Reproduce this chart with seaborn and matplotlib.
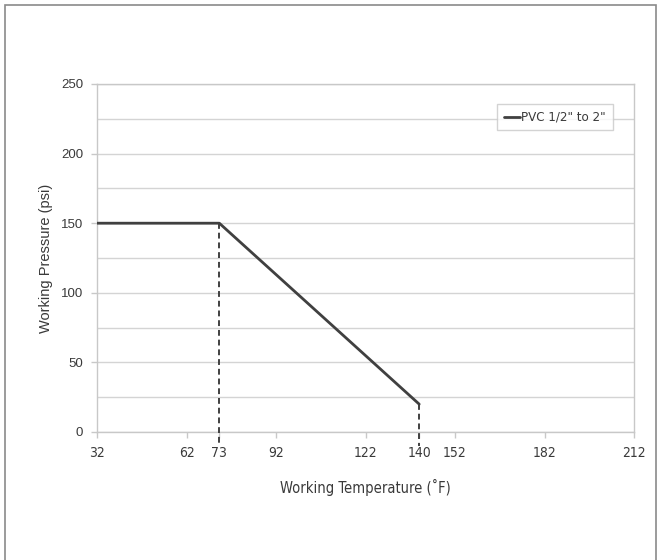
import numpy as np
import pandas as pd
import matplotlib
matplotlib.use("Agg")
import matplotlib.pyplot as plt
import seaborn as sns
from matplotlib.patches import Rectangle

# ------------------------------------------------------------
# Data
# ------------------------------------------------------------
temps = [32, 73, 140]            # deg F
pressures = [150, 150, 20]       # psi
series_name = 'PVC 1/2" to 2"'

drop_temps = [73, 140]
drop_tops = [150, 20]

x_ticks = [32, 62, 73, 92, 122, 140, 152, 182, 212]
y_ticks = [0, 50, 100, 150, 200, 250]

# ------------------------------------------------------------
# Style
# ------------------------------------------------------------
sns.set_style("white")
plt.rcParams["font.family"] = ["Liberation Sans", "DejaVu Sans"]

LINE_COLOR = "#404040"
GRID_COLOR = "#d4d4d4"
TEXT_COLOR = "#3a3a3a"
COND = dict(family="DejaVu Sans", fontstretch="condensed")

df = pd.DataFrame({"Temperature": temps, "Pressure": pressures,
                   "Series": series_name})

fig = plt.figure(figsize=(6.57, 5.60), dpi=100)
ax = fig.add_axes([97 / 657, 1 - 432 / 560, (634 - 97) / 657, (432 - 84) / 560])

# outer frame
fig.patches.append(Rectangle((5 / 657, -0.01), (651 / 657), 1 - 5 / 560 + 0.01,
                             transform=fig.transFigure, fill=False,
                             edgecolor="#8a8a8a", linewidth=1.2))

sns.lineplot(data=df, x="Temperature", y="Pressure", hue="Series",
             palette=[LINE_COLOR], linewidth=2.0, ax=ax, zorder=4)

# dashed drop lines down past the axis
for t, top in zip(drop_temps, drop_tops):
    ax.plot([t, t], [top, -10], color=LINE_COLOR, linestyle=(0, (3, 2)),
            linewidth=1.4, clip_on=False, zorder=3)

ax.set_xlim(32, 212)
ax.set_ylim(0, 250)
ax.set_xticks(x_ticks)
ax.set_yticks(y_ticks)
ax.set_yticks(np.arange(25, 250, 50), minor=True)
ax.grid(axis="y", which="both", color=GRID_COLOR, linewidth=1.0)
ax.set_axisbelow(True)

for side in ["left", "bottom", "top", "right"]:
    ax.spines[side].set_color("#c8c8c8")
    ax.spines[side].set_linewidth(1.0)

ax.tick_params(axis="both", which="major", direction="out", length=4,
               width=1.0, color="#c8c8c8", labelcolor=TEXT_COLOR,
               bottom=True, left=True)
ax.tick_params(axis="y", which="major", labelsize=9.5, pad=6)
ax.tick_params(axis="y", which="minor", length=0)
ax.tick_params(axis="x", pad=6)
for lbl in ax.get_xticklabels():
    lbl.set_fontfamily("DejaVu Sans")
    lbl.set_fontstretch("condensed")
    lbl.set_fontsize(10)

ax.set_xlabel("Working Temperature (˚F)", fontsize=10.5, color=TEXT_COLOR,
              labelpad=14, **COND)
ax.set_ylabel("Working Pressure (psi)", fontsize=10.5, color=TEXT_COLOR,
              labelpad=6)

leg = ax.legend(loc="upper left", bbox_to_anchor=((497 - 97) / 537, 1 - (104 - 84) / 348),
                frameon=True, fancybox=False, fontsize=8, handlelength=1.5,
                handletextpad=0.1, borderpad=0.6, borderaxespad=0)
leg.get_frame().set_edgecolor("#c8c8c8")
leg.get_frame().set_linewidth(1.0)
for t in leg.get_texts():
    t.set_color(TEXT_COLOR)
    t.set_fontfamily("DejaVu Sans")
    t.set_fontstretch("condensed")
    t.set_fontsize(9.5)

fig.savefig("out.png", dpi=100)
